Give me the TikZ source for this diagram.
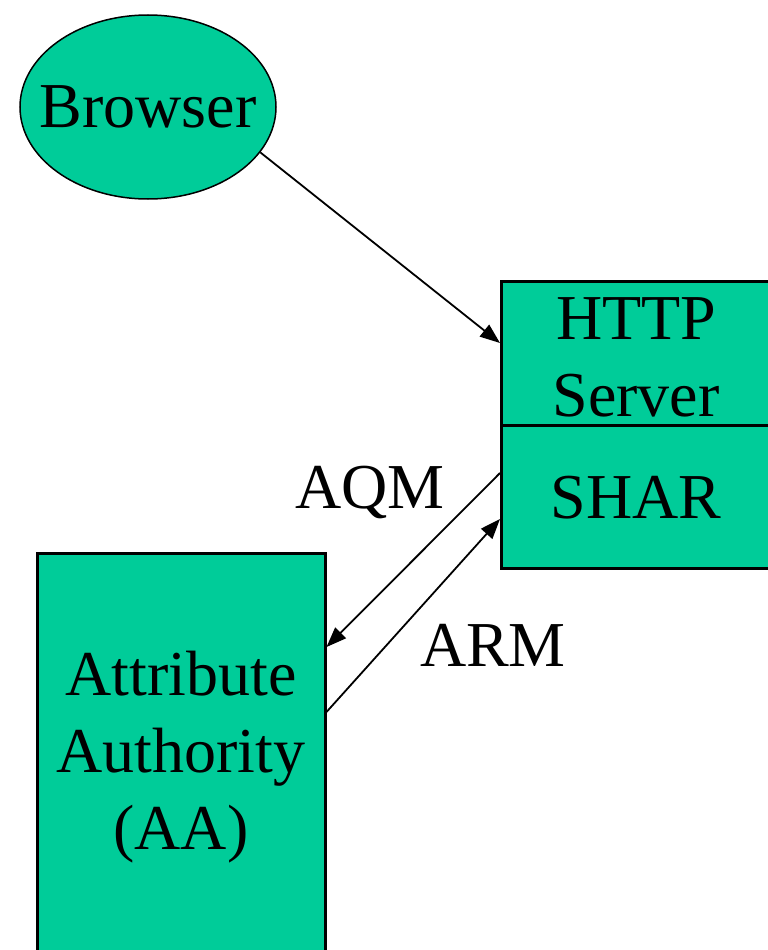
\documentclass[tikz,border=0pt]{standalone}
\usepackage{fontspec}
\setmainfont{Liberation Serif}
\usetikzlibrary{calc,arrows.meta,shapes.geometric}
\definecolor{boxgreen}{HTML}{00CC99}
\tikzset{
  box/.style={draw=black, line width=2.5pt, fill=boxgreen, rectangle, inner sep=0pt},
  blob/.style={draw=black, line width=1.5pt, fill=boxgreen, ellipse, inner sep=0pt, minimum width=256pt, minimum height=184pt},
  conn/.style={line width=1.8pt, -{Triangle[length=20pt,width=15pt]}},
  lbl/.style={font=\fontsize{64}{77}\selectfont, inner sep=0pt, align=center}
}
\begin{document}
\begin{tikzpicture}[x=1pt,y=-1pt]
\useasboundingbox (0,0) rectangle (768,950);
\clip (0,0) rectangle (768,950);
\node[blob] (browser) at (148,107) {};
\node[lbl] (browsertext) at (148,107) {Browser};
\node[box, minimum width=280pt, minimum height=144pt, anchor=north west] (http) at (500,280) {};
\node[lbl] (httptext) at (636,357) {HTTP\\Server};
\node[box, minimum width=280pt, minimum height=143pt, anchor=north west] (shar) at (500,424) {};
\node[lbl] (shartext) at (636,498) {SHAR};
\node[box, minimum width=288pt, minimum height=420pt, anchor=north west] (aa) at (36,552) {};
\node[lbl] (aatext) at (181,757) {Attribute\\Authority\\(AA)};
\node[lbl] (aqm) at (370,492) {AQM};
\node[lbl] (arm) at (493,645) {ARM};
\coordinate (b1) at ($(http.north west)+(0,63)$);
\coordinate (s1) at ($(shar.north west)+(0,49)$);
\coordinate (s2) at ($(shar.north west)+(0,95)$);
\coordinate (a1) at ($(aa.north east)+(0,95)$);
\coordinate (a2) at ($(aa.north east)+(0,160)$);
\draw[conn] (browser.-22) -- (b1);
\draw[conn] (s1) -- (a1);
\draw[conn] (a2) -- (s2);
\end{tikzpicture}
\end{document}
